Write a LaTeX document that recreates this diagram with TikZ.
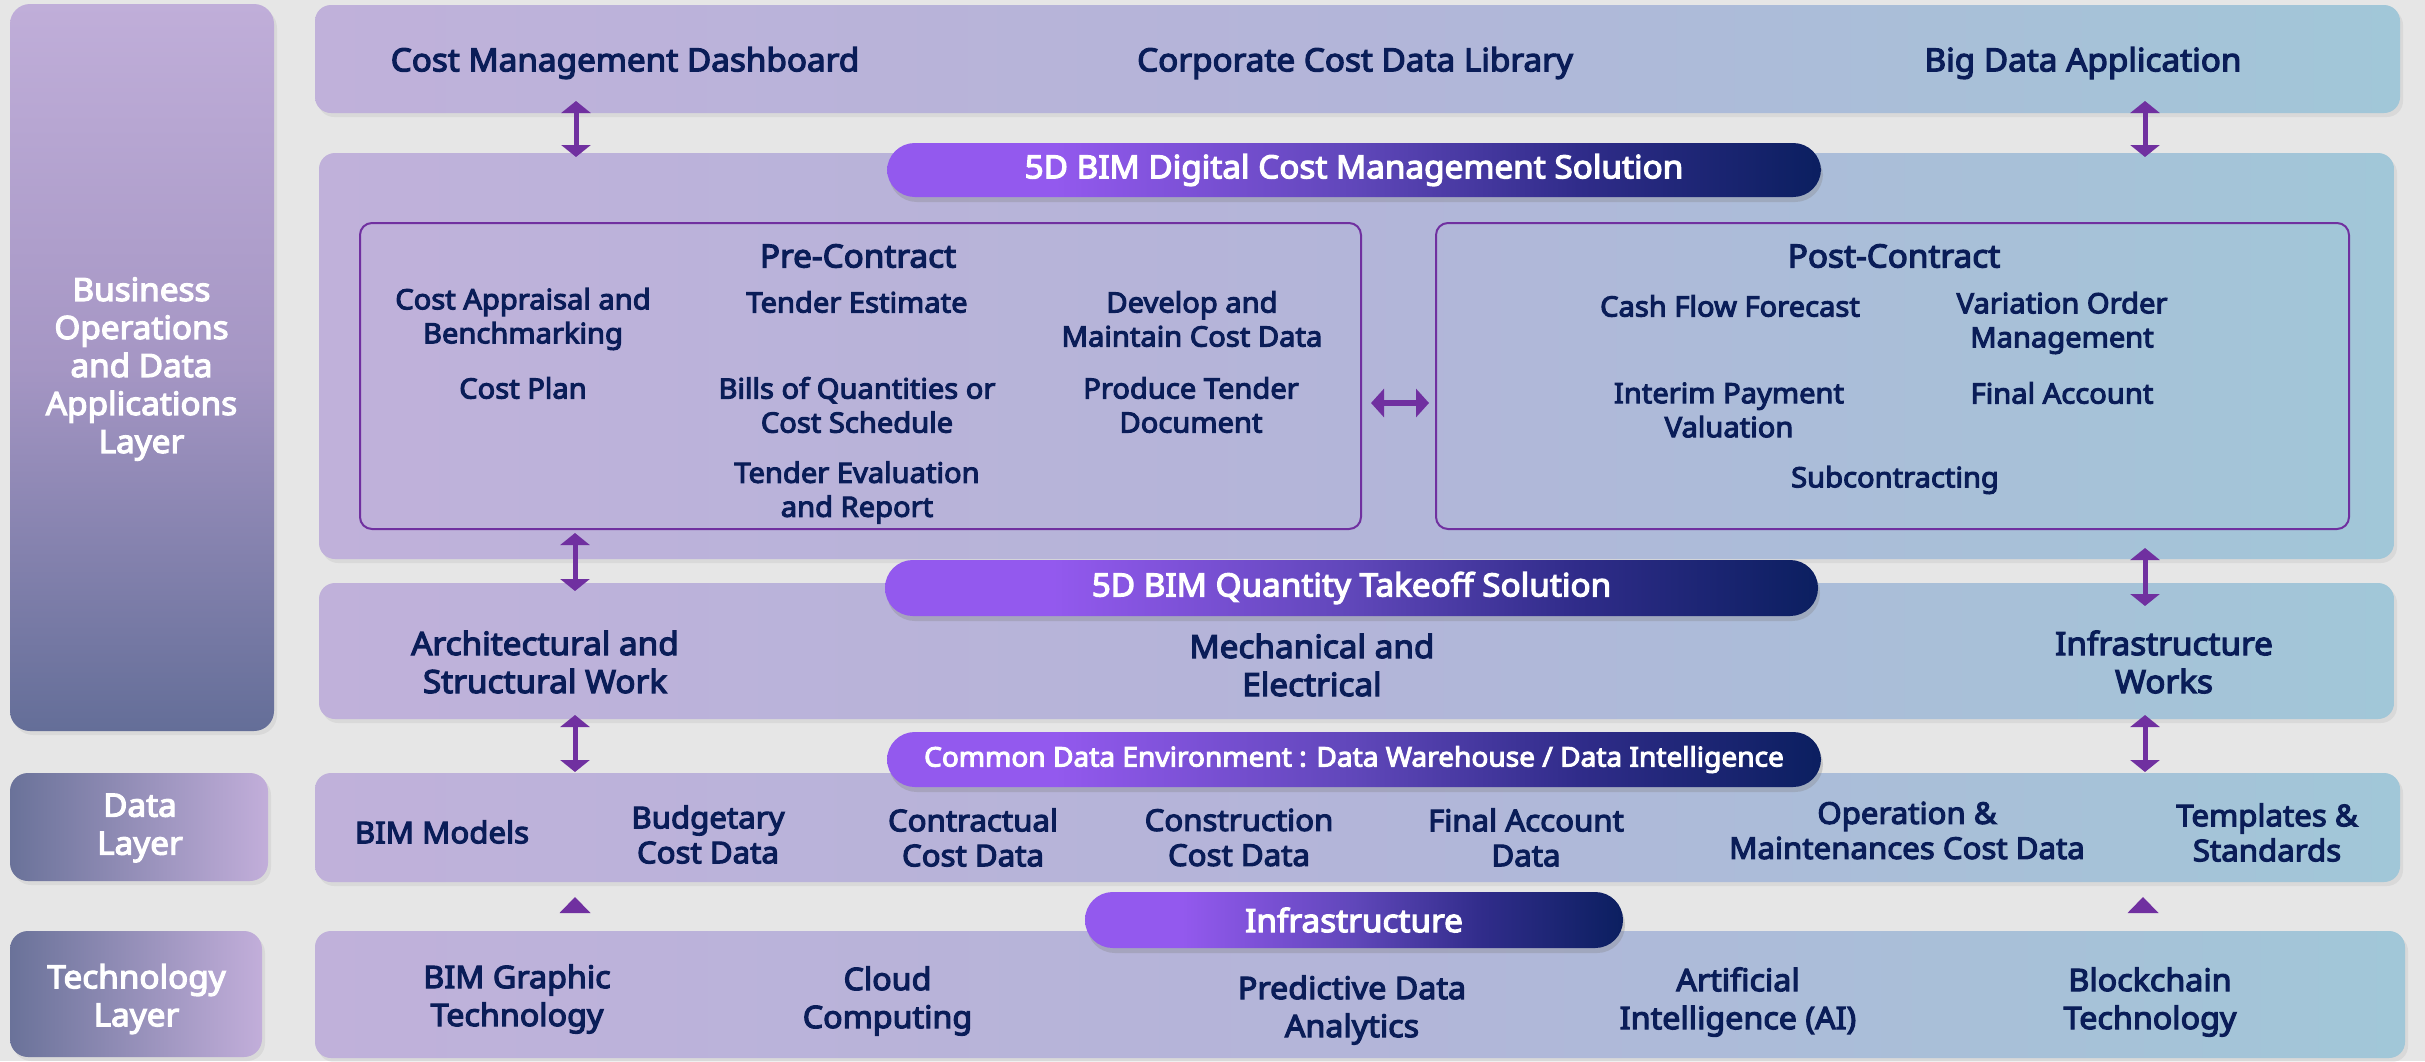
\documentclass[tikz,border=0pt]{standalone}
\usepackage{fontspec}
\setmainfont{Noto Sans}[FakeStretch=1.04, FakeBold=3.8]
\usetikzlibrary{arrows.meta,shadows}
\definecolor{bg}{HTML}{E6E6E6}
\definecolor{navy}{HTML}{0A1D58}
\definecolor{arrowc}{HTML}{7030A0}
\definecolor{mainL}{HTML}{C0B1DA}
\definecolor{mainM}{HTML}{B3B5D9}
\definecolor{mainR}{HTML}{A1C7D8}
\definecolor{sideT}{HTML}{C0AED9}
\definecolor{sideM}{HTML}{A596C4}
\definecolor{sideB}{HTML}{646E98}
\definecolor{sideD}{HTML}{6A7299}
\definecolor{sideL}{HTML}{C2AEDA}
\definecolor{pillA}{HTML}{9359EE}
\definecolor{pillB}{HTML}{6047BA}
\definecolor{pillC}{HTML}{302C8A}
\definecolor{pillD}{HTML}{0B1F60}
\pgfdeclarehorizontalshading{pillshade}{100bp}{color(0bp)=(pillA); color(34bp)=(pillA); color(50bp)=(pillB); color(62bp)=(pillC); color(75bp)=(pillD); color(100bp)=(pillD)}
\begin{document}
\begin{tikzpicture}[x=0.5pt,y=-0.5pt,
  shad/.style={drop shadow={shadow xshift=1.5pt,shadow yshift=-2pt,opacity=0.12}},
  mainbox/.style={rectangle, rounded corners=8pt, inner sep=0pt, left color=mainL, right color=mainR, middle color=mainM, shad},
  sidetall/.style={rectangle, rounded corners=10pt, inner sep=0pt, top color=sideT, bottom color=sideB, middle color=sideM, shad},
  sideshort/.style={rectangle, rounded corners=9pt, inner sep=0pt, left color=sideD, right color=sideL, shad},
  inbox/.style={rectangle, rounded corners=6pt, inner sep=0pt, draw=arrowc, line width=1pt},
  pill/.style={rectangle, rounded corners=13.9pt, inner sep=0pt, shading=pillshade, text=white, drop shadow={shadow xshift=1pt,shadow yshift=-2.5pt,opacity=0.3}},
  ptxt/.style={font=\fontsize{16}{19}\selectfont},
  ctxt/.style={font=\fontsize{13.5}{16}\selectfont},
  t16/.style={text=navy, font=\fontsize{16}{19}\selectfont, align=center, inner sep=0pt},
  t14/.style={text=navy, font=\fontsize{14}{17}\selectfont, align=center, inner sep=0pt},
  t15/.style={text=navy, font=\fontsize{15}{17.5}\selectfont, align=center, inner sep=0pt},
  tt/.style={text=navy, font=\fontsize{15.5}{19}\selectfont, align=center, inner sep=0pt},
  wtxt/.style={text=white, font=\fontsize{16}{19}\selectfont, align=center, inner sep=0pt},
  biarrow/.style={draw=arrowc, line width=2.5pt, >={Triangle[width=14.5pt,length=6pt]}, <->},
  harrow/.style={draw=arrowc, line width=3pt, >={Triangle[width=14pt,length=6.5pt]}, <->}
]
\fill[bg] (0,0) rectangle (2425,1061);
\useasboundingbox (0,0) rectangle (2425,1061);

% left layer boxes
\node[sidetall, minimum width=132pt, minimum height=363.5pt] (L1) at (142,367.5) {};
\node[sideshort, minimum width=129pt, minimum height=54pt] (L2) at (139,827) {};
\node[sideshort, minimum width=126pt, minimum height=63pt] (L3) at (136,994) {};
\node[wtxt] (L1t) at (141.5,369) {Business\\Operations\\and Data\\Applications\\Layer};
\node[wtxt] (L2t) at (140,828) {Data\\Layer};
\node[wtxt] (L3t) at (136.5,999) {Technology\\Layer};

% main boxes
\node[mainbox, minimum width=1042.5pt, minimum height=54pt] (T1) at (1357.5,59) {};
\node[mainbox, minimum width=1037.5pt, minimum height=203pt] (T2) at (1356.5,356) {};
\node[mainbox, minimum width=1037.5pt, minimum height=68pt] (T3) at (1356.5,651) {};
\node[mainbox, minimum width=1042.5pt, minimum height=54.5pt] (T4) at (1357.5,827.5) {};
\node[mainbox, minimum width=1045pt, minimum height=63.5pt] (T5) at (1360,994.5) {};

% inner boxes
\node[inbox, minimum width=500.5pt, minimum height=153pt] (pre) at (860.5,376) {};
\node[inbox, minimum width=456.5pt, minimum height=153pt] (post) at (1892.5,376) {};

% pills
\node[pill, ptxt, minimum width=467pt, minimum height=27pt] (P1) at (1354,170) {5D BIM Digital Cost Management Solution};
\node[pill, ptxt, minimum width=466.5pt, minimum height=28pt] (P2) at (1351.5,588) {5D BIM Quantity Takeoff Solution};
\node[pill, ctxt, minimum width=467pt, minimum height=27.5pt] (P3) at (1354,759.5) {Common Data Environment : Data Warehouse / Data Intelligence};
\node[pill, ptxt, minimum width=269pt, minimum height=28pt] (P4) at (1354,920) {Infrastructure};

% top row
\node[t16] (cmd) at (625,63) {Cost Management Dashboard};
\node[t16] (ccdl) at (1355,63) {Corporate Cost Data Library};
\node[t16] (bda) at (2083,63) {Big Data Application};

% pre-contract
\node[t16] (pret) at (858,256) {Pre-Contract};
\node[t14] (ca) at (523,319) {Cost Appraisal and\\Benchmarking};
\node[t14] (te) at (857,302) {Tender Estimate};
\node[t14] (dm) at (1192,319) {Develop and\\Maintain Cost Data};
\node[t14] (cp) at (523,388) {Cost Plan};
\node[t14] (bq) at (857,405) {Bills of Quantities or\\Cost Schedule};
\node[t14] (pt) at (1191,405) {Produce Tender\\Document};
\node[t14] (ter) at (857,492.5) {Tender Evaluation\\and Report};

% post-contract
\node[t16] (postt) at (1894,256) {Post-Contract};
\node[t14] (cff) at (1730,306) {Cash Flow Forecast};
\node[t14] (vom) at (2062,323) {Variation Order\\Management};
\node[t14] (ipv) at (1729,410) {Interim Payment\\Valuation};
\node[t14] (fa) at (2062,393) {Final Account};
\node[t14] (sub) at (1895,480) {Subcontracting};

% quantity takeoff row
\node[t16] (asw) at (545,662) {Architectural and\\Structural Work};
\node[t16] (me) at (1312,665) {Mechanical and\\Electrical};
\node[t16] (iw) at (2164,662) {Infrastructure\\Works};

% data layer row
\node[t15] (bim) at (442,832) {BIM Models};
\node[t15] (bcd) at (708,834.5) {Budgetary\\Cost Data};
\node[t15] (ccd) at (973,837.5) {Contractual\\Cost Data};
\node[t15] (cscd) at (1239,837.5) {Construction\\Cost Data};
\node[t15] (fad) at (1526,837.5) {Final Account\\Data};
\node[t15] (omcd) at (1907,830.5) {Operation \&\\Maintenances Cost Data};
\node[t15] (tpl) at (2267,832.5) {Templates \&\\Standards};

% technology row
\node[tt] (bgt) at (517,999) {BIM Graphic\\Technology};
\node[tt] (cc) at (887.5,1001) {Cloud\\Computing};
\node[tt] (pda) at (1352,1010) {Predictive Data\\Analytics};
\node[tt] (ai) at (1738,1002) {Artificial\\Intelligence (AI)};
\node[tt] (bct) at (2150,1002) {Blockchain\\Technology};

% arrows
\coordinate (a1t) at (576,101); \coordinate (a1b) at (576,157);
\coordinate (a2t) at (2145,101); \coordinate (a2b) at (2145,157);
\coordinate (a3t) at (575,533); \coordinate (a3b) at (575,591);
\coordinate (a4t) at (2145,548); \coordinate (a4b) at (2145,606);
\coordinate (a5t) at (575,715); \coordinate (a5b) at (575,772);
\coordinate (a6t) at (2145,715); \coordinate (a6b) at (2145,772);
\coordinate (hl) at (1371,403); \coordinate (hr) at (1429,403);
\draw[biarrow] (a1t) -- (a1b);
\draw[biarrow] (a2t) -- (a2b);
\draw[biarrow] (a3t) -- (a3b);
\draw[biarrow] (a4t) -- (a4b);
\draw[biarrow] (a5t) -- (a5b);
\draw[biarrow] (a6t) -- (a6b);
\draw[harrow] (hl) -- (hr);
\coordinate (tri1) at (575,897);
\coordinate (tri2) at (2143,897);
\fill[arrowc] (tri1) -- ++(15.5,16) -- ++(-31,0) -- cycle;
\fill[arrowc] (tri2) -- ++(15.5,16) -- ++(-31,0) -- cycle;
\end{tikzpicture}
\end{document}
